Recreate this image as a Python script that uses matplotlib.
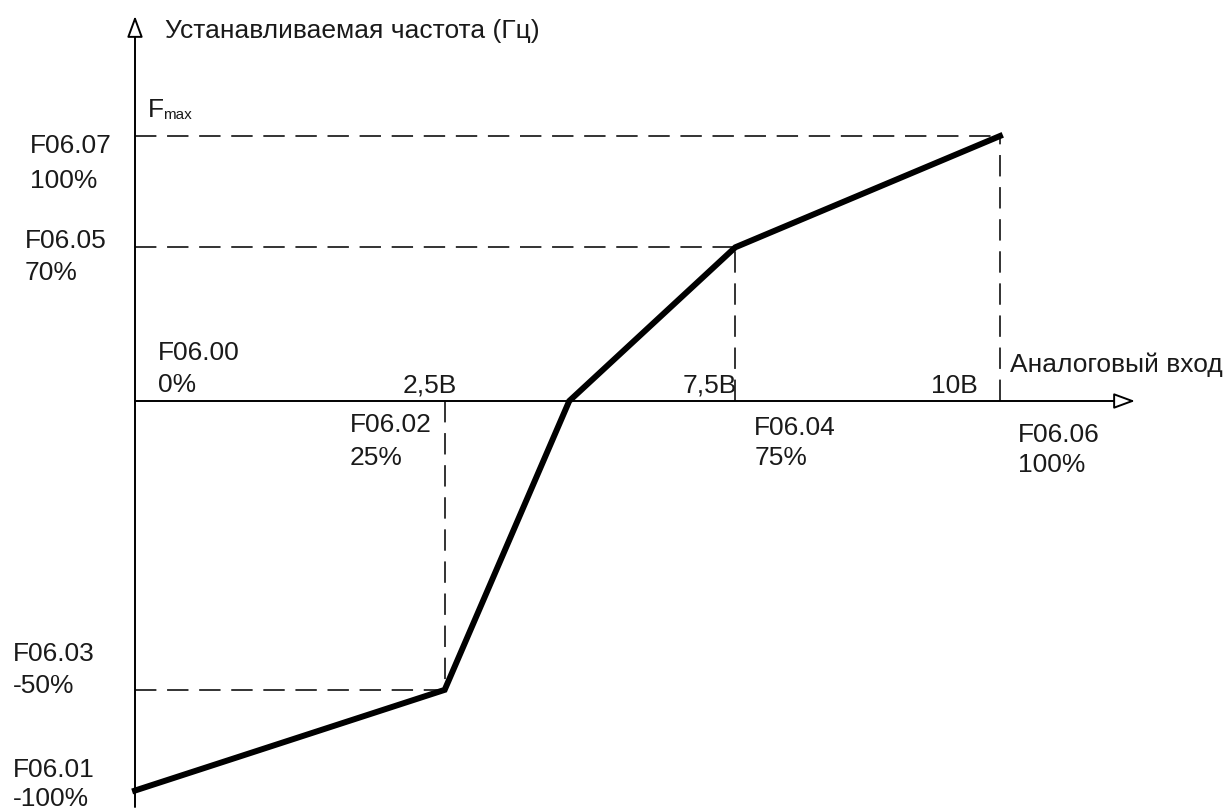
import matplotlib
matplotlib.use("Agg")
import matplotlib.pyplot as plt

plt.rcParams['font.family'] = ['Liberation Sans', 'DejaVu Sans']

# Schematic positions (axis units, not to scale)
x_pts = [0.0, 3.58, 5.02, 6.94, 10.0]
y_pts = [-147.0, -109.0, 0.0, 58.0, 100.0]

x_labels = ["2,5В", "7,5В", "10В"]
x_params = [("F06.02", "25%"), ("F06.04", "75%"), ("F06.06", "100%")]
y_params = [("F06.01", "-100%"), ("F06.03", "-50%"), ("F06.05", "70%"), ("F06.07", "100%")]
origin_param = ("F06.00", "0%")

y_title = "Устанавливаемая частота (Гц)"
x_title = "Аналоговый вход"

TXT = '#1a1a1a'
FS = 19

# pixel scale of the schematic
sx, sy = 86.5, 2.65
ox, oy = 135, 402
W, H = 1232, 812

fig = plt.figure(figsize=(W / 100, H / 100), dpi=100)
ax = fig.add_axes([0, 0, 1, 1])
ax.set_xlim(-ox / sx, (W - ox) / sx)
ax.set_ylim((oy - H) / sy, oy / sy)
ax.axis('off')

x_top = (oy - 17) / sy
x_end = (1135 - ox) / sx
y_bot = (oy - 808) / sy

# axes with open arrow heads
arrow = dict(arrowstyle='-|>,head_length=0.65,head_width=0.24', fc='white', ec='black',
             lw=1.4, shrinkA=0, shrinkB=0, mutation_scale=20)
ax.annotate('', xy=(0, x_top), xytext=(0, y_bot), arrowprops=arrow)
ax.annotate('', xy=(x_end, 0), xytext=(0, 0), arrowprops=arrow)

# dashed guide lines
dash = dict(color='#333333', lw=1.4, dashes=(11, 5.5), zorder=2)
for i in [1, 3, 4]:
    ax.plot([0, x_pts[i]], [y_pts[i], y_pts[i]], **dash)
    ax.plot([x_pts[i], x_pts[i]], [0, y_pts[i]], **dash)

# characteristic curve
ax.plot(x_pts, y_pts, color='black', lw=4.3, solid_joinstyle='miter', zorder=3)


def label(xy, text, dx, dy, ha='left', size=FS):
    ax.annotate(text, xy=xy, xytext=(dx, dy), textcoords='offset pixels',
                ha=ha, va='baseline', fontsize=size, color=TXT)


def label2(xy, lines, dx, dys):
    for t, d in zip(lines, dys):
        label(xy, t, dx, d)


# y-axis labels
label2((0, y_pts[0]), y_params[0], -122, [15, -14])
label2((0, y_pts[1]), y_params[1], -122, [30, -2])
label2((0, y_pts[3]), y_params[2], -110, [0, -32])
label2((0, y_pts[4]), y_params[3], -105, [-16, -51])

# origin
label2((0, 0), origin_param, 23, [42, 10])

# x-axis labels
label((x_pts[1], 0), x_labels[0], 12, 9, ha='right')
label((x_pts[3], 0), x_labels[1], 2, 9, ha='right')
label((x_pts[4], 0), x_labels[2], -22, 9, ha='right')
label2((x_pts[1], 0), x_params[0], -95, [-30, -63])
label2((x_pts[3], 0), x_params[1], 19, [-33, -63])
label2((x_pts[4], 0), x_params[2], 18, [-40, -70])

# axis titles
label((0, x_top), y_title, 30, -21)
label((x_end, 0), x_title, 10 - (1135 - 1000), 30)
label((0, y_pts[4]), "F", 13, 20)
label((0, y_pts[4]), "max", 28, 18, size=11)

fig.savefig("out.png", dpi=100)
